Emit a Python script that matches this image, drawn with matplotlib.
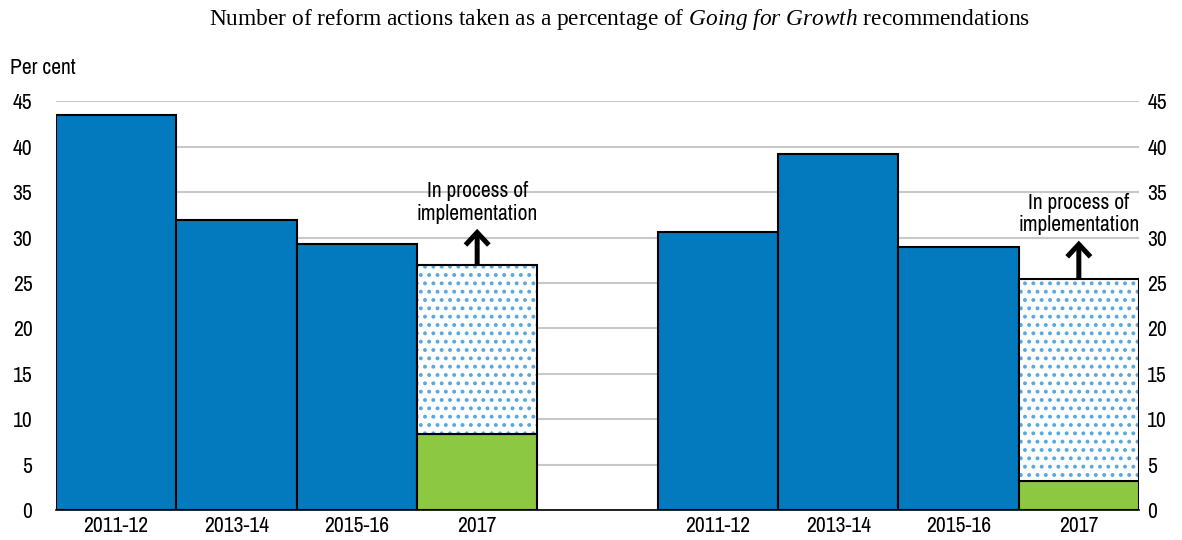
import matplotlib
matplotlib.use("Agg")
import matplotlib.pyplot as plt
import numpy as np

plt.rcParams['font.family'] = ['Archivo Narrow', 'Liberation Sans', 'DejaVu Sans']
plt.rcParams['mathtext.fontset'] = 'custom'
plt.rcParams['mathtext.rm'] = 'Liberation Serif'
plt.rcParams['mathtext.it'] = 'Liberation Serif:italic'
plt.rcParams['hatch.linewidth'] = 1.6

# Data
categories = ["2011-12", "2013-14", "2015-16", "2017"]
left_values = [43.5, 32.0, 29.3, 27.0]      # 2017 = total incl. in process
left_green_2017 = 8.4
right_values = [30.6, 39.2, 29.0, 25.4]
right_green_2017 = 3.2
yticks = [0, 5, 10, 15, 20, 25, 30, 35, 40, 45]
annot_text = "In process of\nimplementation"

BLUE = "#0379BE"
GREEN = "#8DC843"
DOT = "#58A9E2"
FS = 15.5

fig = plt.figure(figsize=(11.82, 5.40), dpi=100)
ax = fig.add_axes([56/1182, 1-510/540, (1139-56)/1182, (510-101.5)/540])

left_pos = np.arange(4)
right_pos = np.arange(4) + 5
w = 1.0

def draw_group(pos, values, green):
    ax.bar(pos[:3], values[:3], width=w, color=BLUE, edgecolor="black",
           linewidth=1.5, zorder=3)
    ax.bar(pos[3], green, width=w, color=GREEN, edgecolor="black",
           linewidth=1.5, zorder=3)
    ax.bar(pos[3], values[3] - green, bottom=green, width=w, color="white",
           edgecolor=DOT, hatch="..", linewidth=0, zorder=3)
    ax.bar(pos[3], values[3] - green, bottom=green, width=w, fill=False,
           edgecolor="black", linewidth=1.5, zorder=4)

draw_group(left_pos, left_values, left_green_2017)
draw_group(right_pos, right_values, right_green_2017)

for x, top, alen in [(left_pos[3], left_values[3], 4.2), (right_pos[3], right_values[3], 4.5)]:
    ax.annotate("", xy=(x, top + alen), xytext=(x, top),
                arrowprops=dict(arrowstyle="->,head_length=0.45,head_width=0.42",
                                mutation_scale=20,
                                color="black", lw=3.6, shrinkA=0, shrinkB=1.5,
                                joinstyle="miter", capstyle="butt"),
                zorder=5)
    ax.text(x, top + alen + 0.35, annot_text, ha="center", va="bottom",
            fontsize=FS, linespacing=1.15, zorder=5)

ax.set_xlim(-0.5, 8.5)
ax.set_ylim(0, 45)
ax.set_yticks(yticks)
ax.yaxis.grid(True, color="#C8C8C8", linewidth=1.5, zorder=0)
ax.set_axisbelow(True)
ax.set_xticks(list(left_pos) + list(right_pos))
ax.set_xticklabels(categories + categories)
ax.tick_params(axis="x", length=0, pad=4, labelsize=FS)
ax.tick_params(axis="y", length=0, pad=17, labelsize=FS)
for s in ["left", "right", "top"]:
    ax.spines[s].set_visible(False)
ax.spines["bottom"].set_color("black")
ax.spines["bottom"].set_linewidth(1.2)
ax.spines["bottom"].set_zorder(6)

ax2 = ax.twinx()
ax2.set_ylim(0, 45)
ax2.set_yticks(yticks)
ax2.tick_params(axis="y", length=0, pad=6, labelsize=FS)
for s in ax2.spines.values():
    s.set_visible(False)

fig.text(10/1182, 1-68/540, "Per cent", fontsize=FS, ha="left", va="center")

fig.text(620/1182, 1-20/540,
         r"Number of reform actions taken as a percentage of $\mathit{Going\ for\ Growth}$ recommendations",
         ha="center", va="center", fontsize=16.8, family="Liberation Serif")

fig.savefig("out.png", dpi=100)
